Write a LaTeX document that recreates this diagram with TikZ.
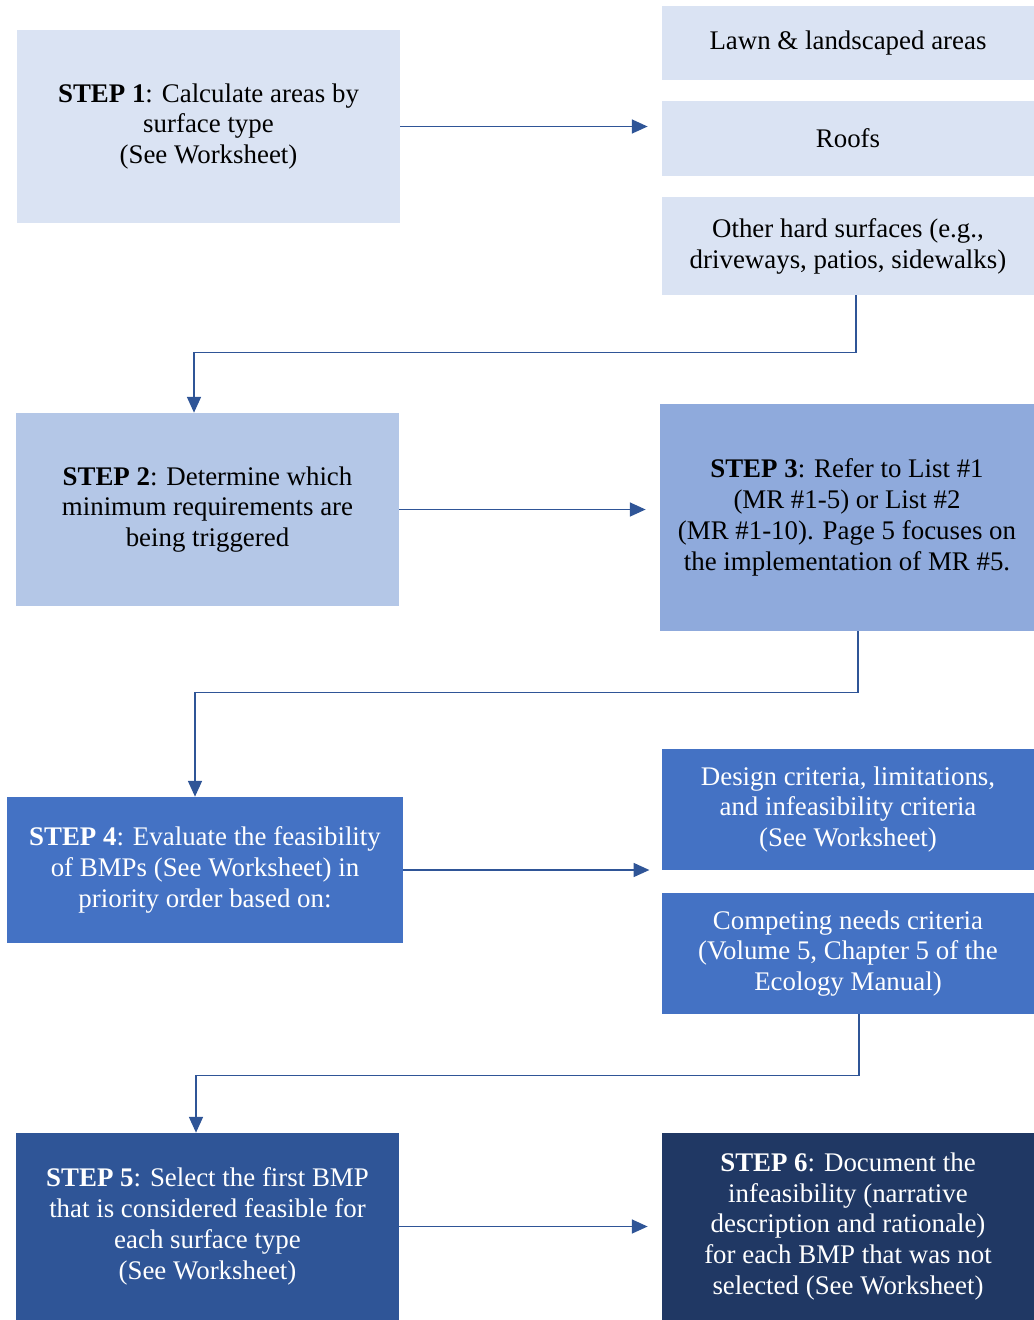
\documentclass[tikz,border=0pt]{standalone}
\usepackage{fontspec}
\setmainfont{Liberation Serif}
\usetikzlibrary{arrows.meta}
\definecolor{boxa}{HTML}{DAE3F3}
\definecolor{boxb}{HTML}{B4C7E7}
\definecolor{boxc}{HTML}{8FAADC}
\definecolor{boxd}{HTML}{4472C4}
\definecolor{boxe}{HTML}{2F5597}
\definecolor{boxf}{HTML}{203864}
\definecolor{linec}{HTML}{2F5597}
\tikzset{
  stepbox/.style={rectangle,inner sep=0pt,align=center,font=\fontsize{15.3}{17.6}\selectfont},
  conn/.style={draw=linec,line width=0.8pt,-{Triangle[length=9pt,width=8pt]}}
}
\begin{document}
\begin{tikzpicture}[x=0.02cm,y=-0.02cm]
      \useasboundingbox (0,0) rectangle (1034,1320);
      % first row
      \node[stepbox,fill=boxa,minimum width=7.66cm,minimum height=3.86cm] (s1) at (208.5,126.5)
        {\textbf{STEP 1}: Calculate areas by\\surface type\\(See Worksheet)};
      \node[stepbox,fill=boxa,minimum width=7.44cm,minimum height=1.48cm] (lawn) at (848,43)
        {Lawn \& landscaped areas};
      \node[stepbox,fill=boxa,minimum width=7.44cm,minimum height=1.5cm] (roofs) at (848,138.5)
        {Roofs};
      \node[stepbox,fill=boxa,minimum width=7.44cm,minimum height=1.96cm] (other) at (848,246)
        {Other hard surfaces (e.g.,\\driveways, patios, sidewalks)};
      % second row
      \node[stepbox,fill=boxb,minimum width=7.66cm,minimum height=3.86cm] (s2) at (207.5,509.5)
        {\textbf{STEP 2}: Determine which\\minimum requirements are\\being triggered};
      \node[stepbox,fill=boxc,minimum width=7.48cm,minimum height=4.54cm] (s3) at (847,517.5)
        {\textbf{STEP 3}: Refer to List \#1\\(MR \#1-5) or List \#2\\(MR \#1-10). Page 5 focuses on\\the implementation of MR \#5.};
      % third row
      \node[stepbox,fill=boxd,text=white,minimum width=7.92cm,minimum height=2.92cm] (s4) at (205,870)
        {\textbf{STEP 4}: Evaluate the feasibility\\of BMPs (See Worksheet) in\\priority order based on:};
      \node[stepbox,fill=boxd,text=white,minimum width=7.44cm,minimum height=2.42cm] (design) at (848,809.5)
        {Design criteria, limitations,\\and infeasibility criteria\\(See Worksheet)};
      \node[stepbox,fill=boxd,text=white,minimum width=7.44cm,minimum height=2.42cm] (comp) at (848,953.5)
        {Competing needs criteria\\(Volume 5, Chapter 5 of the\\Ecology Manual)};
      % last row
      \node[stepbox,fill=boxe,text=white,minimum width=7.66cm,minimum height=3.74cm] (s5) at (207.5,1226.5)
        {\textbf{STEP 5}: Select the first BMP\\that is considered feasible for\\each surface type\\(See Worksheet)};
      \node[stepbox,fill=boxf,text=white,minimum width=7.44cm,minimum height=3.74cm] (s6) at (848,1226.5)
        {\textbf{STEP 6}: Document the\\infeasibility (narrative\\description and rationale)\\for each BMP that was not\\selected (See Worksheet)};
      % connectors
      \draw[conn,shorten >=8pt] (s1.east) -- (s1.east -| roofs.west);
      \draw[conn] ([xshift=0.16cm]other.south) -- ++(0,57) -| ([xshift=-0.27cm]s2.north);
      \draw[conn,shorten >=8pt] (s2.east) -- (s2.east -| s3.west);
      \draw[conn] ([xshift=0.22cm]s3.south) -- ++(0,61) -| ([xshift=-0.2cm]s4.north);
      \draw[conn,shorten >=7pt] (s4.east) -- (s4.east -| design.west);
      \draw[conn] ([xshift=0.22cm]comp.south) -- ++(0,61) -| ([xshift=-0.23cm]s5.north);
      \draw[conn,shorten >=8pt] (s5.east) -- (s6.west);
    \end{tikzpicture}
\end{document}
